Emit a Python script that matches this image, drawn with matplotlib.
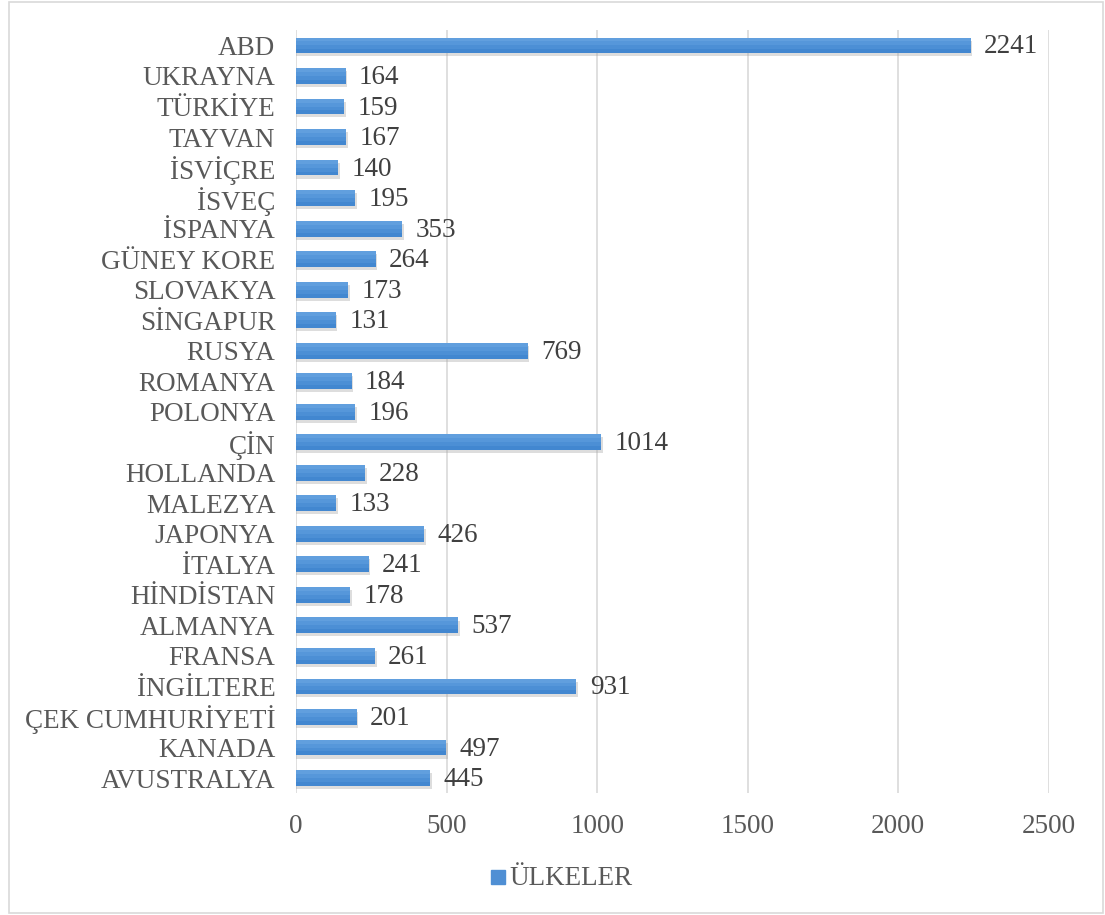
import matplotlib.pyplot as plt
from matplotlib.patches import Rectangle

countries = ['AVUSTRALYA', 'KANADA', 'ÇEK CUMHURİYETİ', 'İNGİLTERE', 'FRANSA',
             'ALMANYA', 'HİNDİSTAN', 'İTALYA', 'JAPONYA', 'MALEZYA', 'HOLLANDA',
             'ÇİN', 'POLONYA', 'ROMANYA', 'RUSYA', 'SİNGAPUR', 'SLOVAKYA',
             'GÜNEY KORE', 'İSPANYA', 'İSVEÇ', 'İSVİÇRE', 'TAYVAN', 'TÜRKİYE',
             'UKRAYNA', 'ABD']
values = [445, 497, 201, 931, 261, 537, 178, 241, 426, 133, 228, 1014, 196,
          184, 769, 131, 173, 264, 353, 195, 140, 167, 159, 164, 2241]
xticks = [0, 500, 1000, 1500, 2000, 2500]

plt.rcParams['font.family'] = ['Liberation Serif', 'DejaVu Serif']

fig = plt.figure(figsize=(11.05, 9.15), dpi=100)
ax = fig.add_axes([0.268, 0.133, 0.681, 0.834])

ypos = list(range(len(countries)))
# soft shadow under each bar
ax.barh([y - 0.1 for y in ypos], [v + 6 for v in values], height=0.52,
        color='#a0a0a0', alpha=0.35, zorder=2, linewidth=0)
# base bar, then lighter strips on top for a gradient look
ax.barh(ypos, values, height=0.52, color='#4287d0', zorder=3, linewidth=0)
ax.barh([y + 0.065 for y in ypos], values, height=0.39, color='#4c8fd5', zorder=4, linewidth=0)
ax.barh([y + 0.13 for y in ypos], values, height=0.26, color='#5697da', zorder=5, linewidth=0)
ax.barh([y + 0.195 for y in ypos], values, height=0.13, color='#619fde', zorder=6, linewidth=0)

for y, v in zip(ypos, values):
    ax.text(v + 45, y - 0.05, str(v), va='center', ha='left', fontsize=19.5, color='#404040')

ax.set_xlim(0, 2500)
ax.set_ylim(-0.5, len(countries) - 0.5)
ax.set_xticks(xticks)
ax.set_xticklabels([str(t) for t in xticks])
ax.set_yticks(ypos)
ax.set_yticklabels(countries)
ax.tick_params(axis='both', length=0, labelsize=19.5, colors='#595959')
ax.tick_params(axis='x', pad=15)
ax.tick_params(axis='y', pad=15)
ax.grid(axis='x', color='#d9d9d9', linewidth=1.2, zorder=0)
for s in ax.spines.values():
    s.set_visible(False)

# legend at bottom
fig.patches.append(Rectangle((0.444, 0.034), 0.013, 0.015, transform=fig.transFigure,
                             color='#4f8fd4', figure=fig))
fig.text(0.461, 0.040, 'ÜLKELER', fontsize=19.5, color='#595959', va='center', ha='left')

# chart frame
fig.patches.append(Rectangle((0.008, 0.002), 0.99, 0.996, transform=fig.transFigure,
                             fill=False, edgecolor='#d9d9d9', linewidth=1.2, figure=fig))

fig.savefig('out.png', dpi=100)
